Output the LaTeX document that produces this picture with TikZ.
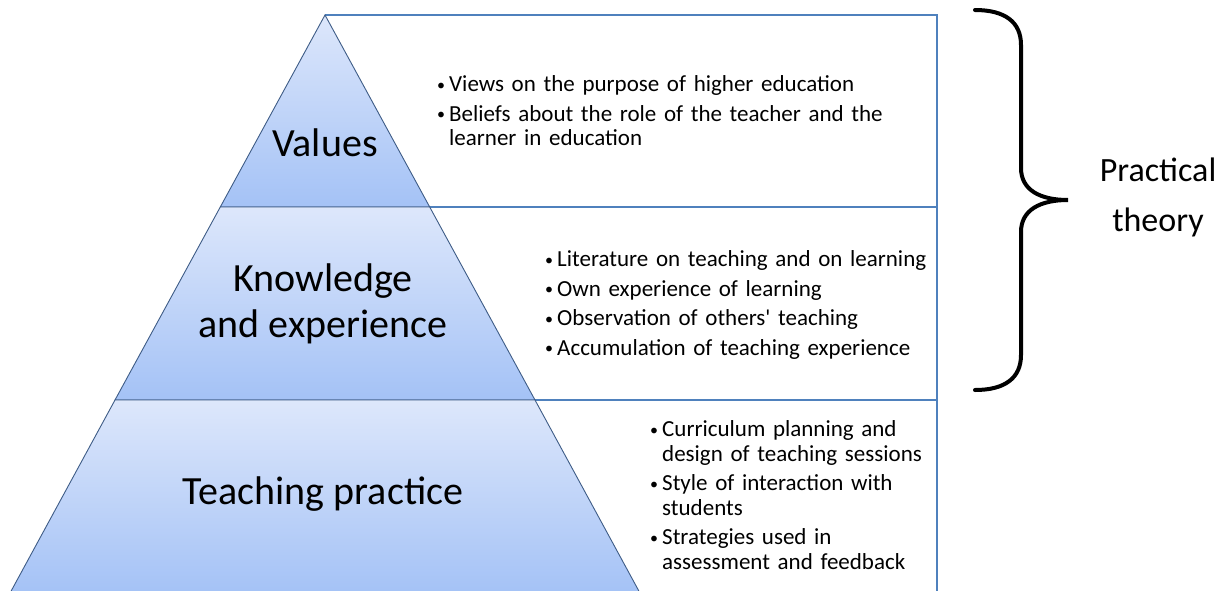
\documentclass[tikz,border=0pt]{standalone}
\usepackage{fontspec}
\setmainfont{Carlito}
\newfontfamily\egyenes{Carlito}[Ligatures=TeXOff]
\usetikzlibrary{positioning}
\definecolor{kekvonal}{HTML}{4F81BD}
\definecolor{savfent}{HTML}{DDE7FB}
\definecolor{savlent}{HTML}{A4C2F6}
\definecolor{perem}{HTML}{3E5C86}
\newcommand{\tetel}[1]{\par\noindent
  \makebox[12pt][l]{\fontsize{16}{16}\selectfont\raisebox{1.5pt}{\textbullet}}#1}
\newcommand{\beh}{\\\hspace*{12pt}}
\tikzset{
  sav/.style={top color=savfent,bottom color=savlent,draw=perem,line width=0.9pt},
  keret/.style={draw=kekvonal,line width=1.6pt},
  szint/.style={font=\fontsize{40}{46}\selectfont,align=center,inner sep=0pt},
  lista/.style={font=\fontsize{23}{24.5}\selectfont\setlength\parskip{5pt},align=left,
                anchor=north west,inner sep=0pt,text width=#1},
  kapocs/.style={line width=4pt,line cap=round},
  cimke/.style={font=\fontsize{34}{50}\selectfont,align=center,inner sep=0pt},
}
\begin{document}
\begin{tikzpicture}[x=1pt,y=-1pt]
  \useasboundingbox (0,0) rectangle (1224,590);
  % piramis sarkai
  \coordinate (csucs) at (325,15);
  \coordinate (b1) at (220.3,207); \coordinate (j1) at (429.7,207);
  \coordinate (b2) at (115,400);   \coordinate (j2) at (535,400);
  \coordinate (b3) at (9.5,594);   \coordinate (j3) at (640.5,594);
  \coordinate (k0) at (937,15); \coordinate (k1) at (937,207);
  \coordinate (k2) at (937,400); \coordinate (k3) at (937,594);
  % keret
  \draw[keret] (csucs) -- (k0) -- (k3);
  \draw[keret] (j1) -- (k1);
  \draw[keret] (j2) -- (k2);
  % savok
  \shade[sav] (csucs) -- (j1) -- (b1) -- cycle;
  \shade[sav] (b1) -- (j1) -- (j2) -- (b2) -- cycle;
  \shade[sav] (b2) -- (j2) -- (j3) -- (b3) -- cycle;
  \node[szint] (ertek) at (325,143) {Values};
  \node[szint] (tudas) at (323,304) {Knowledge\\and experience};
  \node[szint] (gyak) at (323,494) {Teaching practice};
  % felsorolasok
  \node[lista=460pt] (l1) at (437,62) {\tetel{Views on the purpose of higher education}
    \tetel{Beliefs about the role of the teacher and the\beh learner in education}};
  \node[lista=390pt] (l2) at (545,237) {\tetel{Literature on teaching and on learning}
    \tetel{Own experience of learning}\tetel{Observation of others{\egyenes'} teaching}
    \tetel{Accumulation of teaching experience}};
  \node[lista=285pt] (l3) at (650,407) {\tetel{Curriculum planning and\beh design of teaching sessions}
    \tetel{Style of interaction with\beh students}\tetel{Strategies used in\beh assessment and feedback}};
  % kapcsos zarojel
  \draw[kapocs] (975,10) .. controls (1005,10) and (1021,22) .. (1021,45) -- (1021,168)
    .. controls (1021,190) and (1040,200) .. (1068,200)
    .. controls (1040,200) and (1021,210) .. (1021,232) -- (1021,355)
    .. controls (1021,378) and (1005,390) .. (975,390);
  \node[cimke] (elmelet) at (1158,197) {Practical\\theory};
\end{tikzpicture}
\end{document}
